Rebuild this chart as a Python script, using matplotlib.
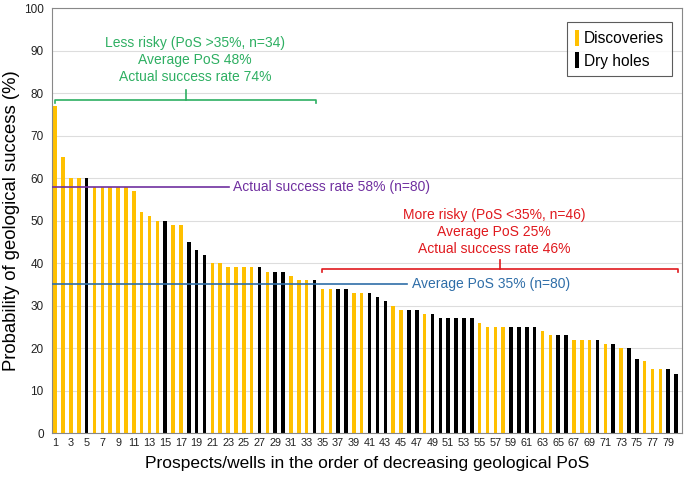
import numpy as np
import matplotlib
matplotlib.use("Agg")
import matplotlib.pyplot as plt

plt.rcParams["font.family"] = ["Liberation Sans", "DejaVu Sans"]

# PoS of each prospect, in order of decreasing PoS (%)
pos = [77, 65, 60, 60, 60, 58, 58, 58, 58, 58,
       57, 52, 51, 50, 50, 49, 49, 45, 43, 42,
       40, 40, 39, 39, 39, 39, 39, 38, 38, 38,
       37, 36, 36, 36, 34, 34, 34, 34, 33, 33,
       33, 32, 31, 30, 29, 29, 29, 28, 28, 27,
       27, 27, 27, 27, 26, 25, 25, 25, 25, 25,
       25, 25, 24, 23, 23, 23, 22, 22, 22, 22,
       21, 21, 20, 20, 17.5, 17, 15, 15, 15, 14]
# 1 = discovery, 0 = dry hole
outcome = [1, 1, 1, 1, 0, 1, 1, 1, 1, 1,
           1, 1, 1, 1, 0, 1, 1, 0, 0, 0,
           1, 1, 1, 1, 1, 1, 0, 1, 0, 0,
           1, 1, 1, 0, 1, 1, 0, 0, 1, 1,
           0, 0, 0, 1, 1, 0, 0, 1, 0, 0,
           0, 0, 0, 0, 1, 1, 1, 1, 0, 0,
           0, 0, 1, 1, 0, 0, 1, 1, 1, 0,
           1, 0, 1, 0, 0, 1, 1, 1, 0, 0]

actual_rate = 58
avg_pos = 35

YELLOW = "#FFC000"
GREEN = "#2EAF62"
RED = "#E0191E"
PURPLE = "#7030A0"
BLUE = "#2F6EA8"

x = np.arange(1, len(pos) + 1)
pos = np.array(pos)
outcome = np.array(outcome)

fig = plt.figure(figsize=(6.85, 4.83), dpi=100)
ax = fig.add_axes([0.076, 0.1035, 0.9196, 0.8795])

ax.bar(x[outcome == 1], pos[outcome == 1], width=0.45, color=YELLOW,
       label="Discoveries", zorder=2)
ax.bar(x[outcome == 0], pos[outcome == 0], width=0.45, color="black",
       label="Dry holes", zorder=2)

ax.set_xlim(0.6, 80.75)
ax.set_ylim(0, 100)
ax.set_yticks(np.arange(0, 101, 10))
ax.set_xticks(np.arange(1, 80, 2))
ax.tick_params(length=0, labelsize=7.8, colors="#222222")
ax.tick_params(axis="y", pad=6, labelsize=8.5)
ax.grid(axis="y", color="#DDDDDD", lw=0.8, zorder=0)
for s in ax.spines.values():
    s.set_color("#888888")

ax.set_xlabel("Prospects/wells in the order of decreasing geological PoS",
              fontsize=12.5, labelpad=6)
ax.set_ylabel("Probability of geological success (%)", fontsize=13.3, labelpad=3)

# reference lines
ax.plot([0.6, 23.1], [actual_rate, actual_rate], color=PURPLE, lw=1.2, zorder=3)
ax.text(23.6, actual_rate, "Actual success rate 58% (n=80)", color=PURPLE,
        fontsize=10, va="center")
ax.plot([0.6, 45.8], [avg_pos, avg_pos], color=BLUE, lw=1.2, zorder=3)
ax.text(46.4, avg_pos, "Average PoS 35% (n=80)", color=BLUE,
        fontsize=10, va="center")


def bracket(x0, x1, xm, y, color):
    ax.plot([x0, x0, x1, x1], [y - 0.7, y, y, y - 0.7], color=color, lw=1.2,
            zorder=3, clip_on=False)
    ax.plot([xm, xm], [y, y + 2.2], color=color, lw=1.2, zorder=3)


bracket(1, 34.2, 17.6, 78.5, GREEN)
ax.text(18.8, 87.8, "Less risky (PoS >35%, n=34)\nAverage PoS 48%\nActual success rate 74%",
        color=GREEN, fontsize=10, ha="center", va="center", linespacing=1.25)

bracket(34.9, 80.2, 57.6, 38.6, RED)
ax.text(56.8, 47.3, "More risky (PoS <35%, n=46)\nAverage PoS 25%\nActual success rate 46%",
        color=RED, fontsize=10, ha="center", va="center", linespacing=1.25)

leg = ax.legend(loc="upper right", bbox_to_anchor=(0.984, 0.967), borderaxespad=0,
                fontsize=11.2, handlelength=0.3, handleheight=1.2, handletextpad=0.3,
                frameon=True, fancybox=False, borderpad=0.5, labelspacing=0.4)
leg.get_frame().set_edgecolor("#333333")
leg.get_frame().set_linewidth(0.8)

fig.savefig("out.png", dpi=100)
